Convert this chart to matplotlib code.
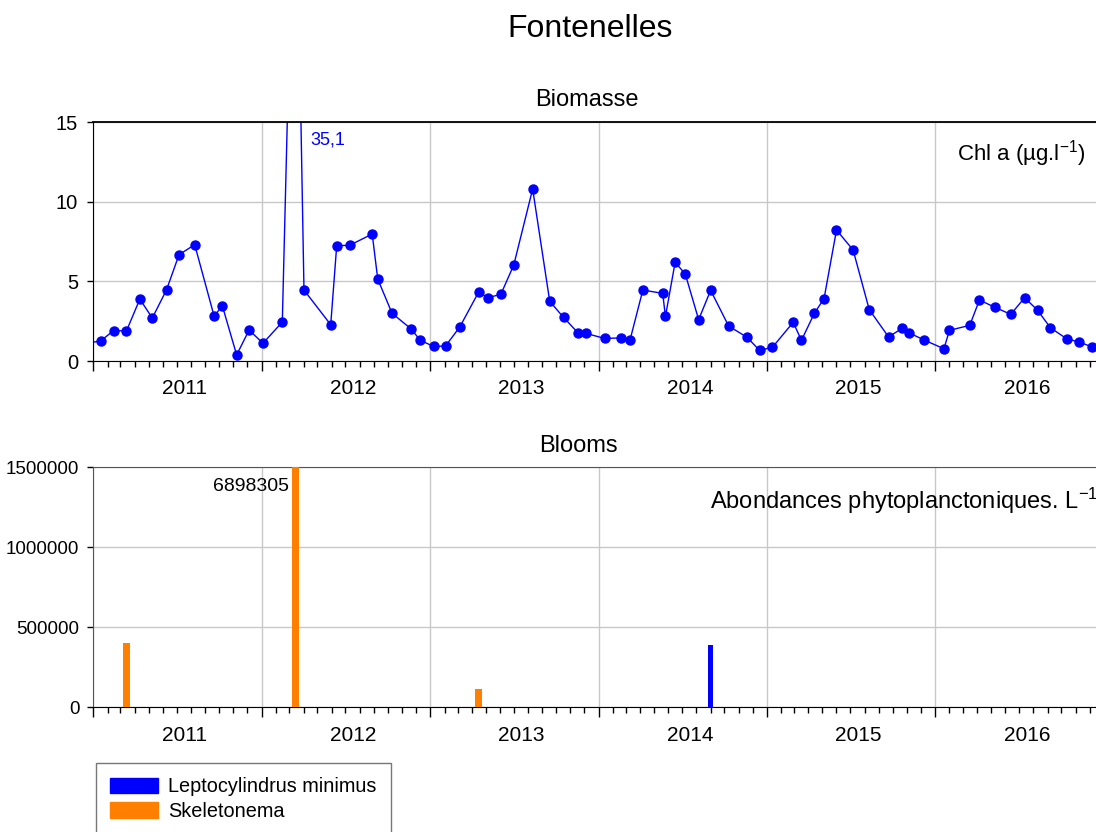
import matplotlib
matplotlib.use('Agg')
import matplotlib.pyplot as plt
import matplotlib.dates as mdates
import matplotlib.transforms as mtransforms
from matplotlib.patches import Patch
import pandas as pd

plt.rcParams['font.family'] = 'Liberation Sans'
plt.rcParams['mathtext.fontset'] = 'custom'
plt.rcParams['mathtext.rm'] = 'Liberation Sans'
plt.rcParams['mathtext.it'] = 'Liberation Sans:italic'

# Chlorophyll a samples (µg/l)
chl_dates = ['2010-12-15', '2011-01-17', '2011-02-14', '2011-03-14', '2011-04-12', '2011-05-09',
             '2011-06-09', '2011-07-06', '2011-08-09', '2011-09-20', '2011-10-08', '2011-11-08',
             '2011-12-05', '2012-01-04', '2012-02-15', '2012-03-14', '2012-04-02', '2012-05-30',
             '2012-06-12', '2012-07-10', '2012-08-28', '2012-09-09', '2012-10-10', '2012-11-21',
             '2012-12-10', '2013-01-08', '2013-02-03', '2013-03-06', '2013-04-16', '2013-05-06',
             '2013-06-03', '2013-07-01', '2013-08-11', '2013-09-17', '2013-10-17', '2013-11-17',
             '2013-12-04', '2014-01-14', '2014-02-18', '2014-03-10', '2014-04-07', '2014-05-20',
             '2014-05-26', '2014-06-16', '2014-07-08', '2014-08-06', '2014-09-01', '2014-10-10',
             '2014-11-19', '2014-12-16', '2015-01-13', '2015-02-27', '2015-03-17', '2015-04-14',
             '2015-05-05', '2015-06-01', '2015-07-07', '2015-08-11', '2015-09-22', '2015-10-22',
             '2015-11-06', '2015-12-08', '2016-01-20', '2016-02-01', '2016-03-16', '2016-04-06',
             '2016-05-10', '2016-06-13', '2016-07-13', '2016-08-10', '2016-09-07', '2016-10-12',
             '2016-11-09', '2016-12-07']
chl_values = [1.10, 1.26, 1.91, 1.89, 3.89, 2.70,
              4.48, 6.68, 7.31, 2.83, 3.46, 0.38,
              1.95, 1.11, 2.45, 35.1, 4.46, 2.28,
              7.25, 7.27, 7.98, 5.15, 3.00, 2.00,
              1.30, 0.92, 0.94, 2.14, 4.34, 3.98,
              4.19, 6.03, 10.81, 3.75, 2.74, 1.78,
              1.74, 1.42, 1.45, 1.30, 4.46, 4.25,
              2.80, 6.20, 5.47, 2.60, 4.44, 2.20,
              1.49, 0.67, 0.86, 2.43, 1.30, 3.00,
              3.92, 8.23, 6.98, 3.23, 1.51, 2.07,
              1.76, 1.32, 0.77, 1.93, 2.24, 3.83,
              3.37, 2.93, 3.98, 3.19, 2.09, 1.40,
              1.18, 0.88]

# Bloom abundances (cells per litre)
lepto_dates = ['2014-09-01']
lepto_values = [390000]
skel_dates = ['2011-03-14', '2012-03-14', '2013-04-16']
skel_values = [400000, 6898305, 115000]

years = [2011, 2012, 2013, 2014, 2015, 2016]

BLUE = '#0000ff'
ORANGE = '#ff8000'
GRID = '#c8c8c8'

chl_t = pd.to_datetime(chl_dates)
lepto_t = pd.to_datetime(lepto_dates)
skel_t = pd.to_datetime(skel_dates)

fig = plt.figure(figsize=(10.96, 8.32), dpi=100)
ax1 = fig.add_axes([0.0851, 0.5661, 0.9217, 0.2869])
ax2 = fig.add_axes([0.0851, 0.1502, 0.9217, 0.2885])


def time_axis(ax):
    ax.set_xlim(mdates.date2num(pd.Timestamp('2011-01-01')),
                mdates.date2num(pd.Timestamp('2016-12-31')))
    ax.xaxis.set_major_locator(mdates.YearLocator())
    ax.xaxis.set_minor_locator(mdates.MonthLocator())
    ax.xaxis.set_major_formatter(plt.NullFormatter())
    ax.tick_params(axis='x', which='major', direction='out', length=7, width=1)
    ax.tick_params(axis='x', which='minor', direction='out', length=4, width=1)
    ax.tick_params(axis='y', direction='out', length=4, width=1, pad=7)
    ax.grid(True, which='major', color=GRID, lw=1)
    ax.set_axisbelow(True)
    ax.spines['right'].set_visible(False)
    trans = mtransforms.blended_transform_factory(ax.transData, ax.transAxes)
    for y in years:
        ax.text(mdates.date2num(pd.Timestamp(f'{y}-07-18')), -0.117, str(y),
                transform=trans, ha='center', va='center', fontsize=15)


# Biomasse panel
time_axis(ax1)
ax1.plot(chl_t, chl_values, color=BLUE, lw=1, marker='o', ms=6.5)
ax1.set_ylim(0, 15)
ax1.set_yticks([0, 5, 10, 15])
ax1.tick_params(axis='y', labelsize=14.5)
for s in ('top', 'left', 'bottom'):
    ax1.spines[s].set_color('black')
ax1.spines['top'].set_linewidth(1.3)

peak = max(chl_values)
peak_t = chl_t[chl_values.index(peak)]
ax1.annotate(f'{peak:.1f}'.replace('.', ','), xy=(peak_t, 15), xytext=(11, -12.7),
             textcoords='offset points', ha='left', va='center', fontsize=13, color=BLUE)
ax1.text(0.9817, 0.871, 'Chl a (µg.l$^{-1}$)', transform=ax1.transAxes,
         ha='right', va='center', fontsize=16)

# Blooms panel
time_axis(ax2)
ax2.bar(skel_t, skel_values, width=15, color=ORANGE, zorder=3)
ax2.bar(lepto_t, lepto_values, width=12, color=BLUE, zorder=3)
ax2.set_ylim(0, 1500000)
ax2.set_yticks([0, 500000, 1000000, 1500000])
ax2.set_yticklabels(['0', '500000', '1000000', '1500000'])
ax2.tick_params(axis='y', labelsize=13.5, pad=6)
for s in ('top', 'left'):
    ax2.spines[s].set_color('#555555')
ax2.spines['bottom'].set_color('black')

big = max(skel_values)
big_t = skel_t[skel_values.index(big)]
ax2.annotate(str(big), xy=(big_t, 1500000), xytext=(-4.5, -14.2),
             textcoords='offset points', ha='right', va='center', fontsize=14)
ax2.text(0.6105, 0.858, 'Abondances phytoplanctoniques. L$^{-1}$', transform=ax2.transAxes,
         ha='left', va='center', fontsize=17, clip_on=False)

# Titles
fig.text(0.538, 0.9559, 'Fontenelles', ha='center', va='baseline', fontsize=23)
fig.text(0.5356, 0.8726, 'Biomasse', ha='center', va='baseline', fontsize=17)
fig.text(0.5274, 0.4565, 'Blooms', ha='center', va='baseline', fontsize=17)

handles = [Patch(facecolor=BLUE, edgecolor=BLUE, label='Leptocylindrus minimus'),
           Patch(facecolor=ORANGE, edgecolor=ORANGE, label='Skeletonema')]
leg = fig.legend(handles=handles, loc='upper left', bbox_to_anchor=(0.0876, 0.0829),
                 fontsize=14.3, frameon=True, fancybox=False, borderpad=0.72,
                 handlelength=2.41, handleheight=0.85, handletextpad=0.5,
                 labelspacing=0.28, borderaxespad=0)
leg.get_frame().set_edgecolor('#555555')
leg.get_frame().set_linewidth(1)

fig.savefig('out.png', dpi=100)
